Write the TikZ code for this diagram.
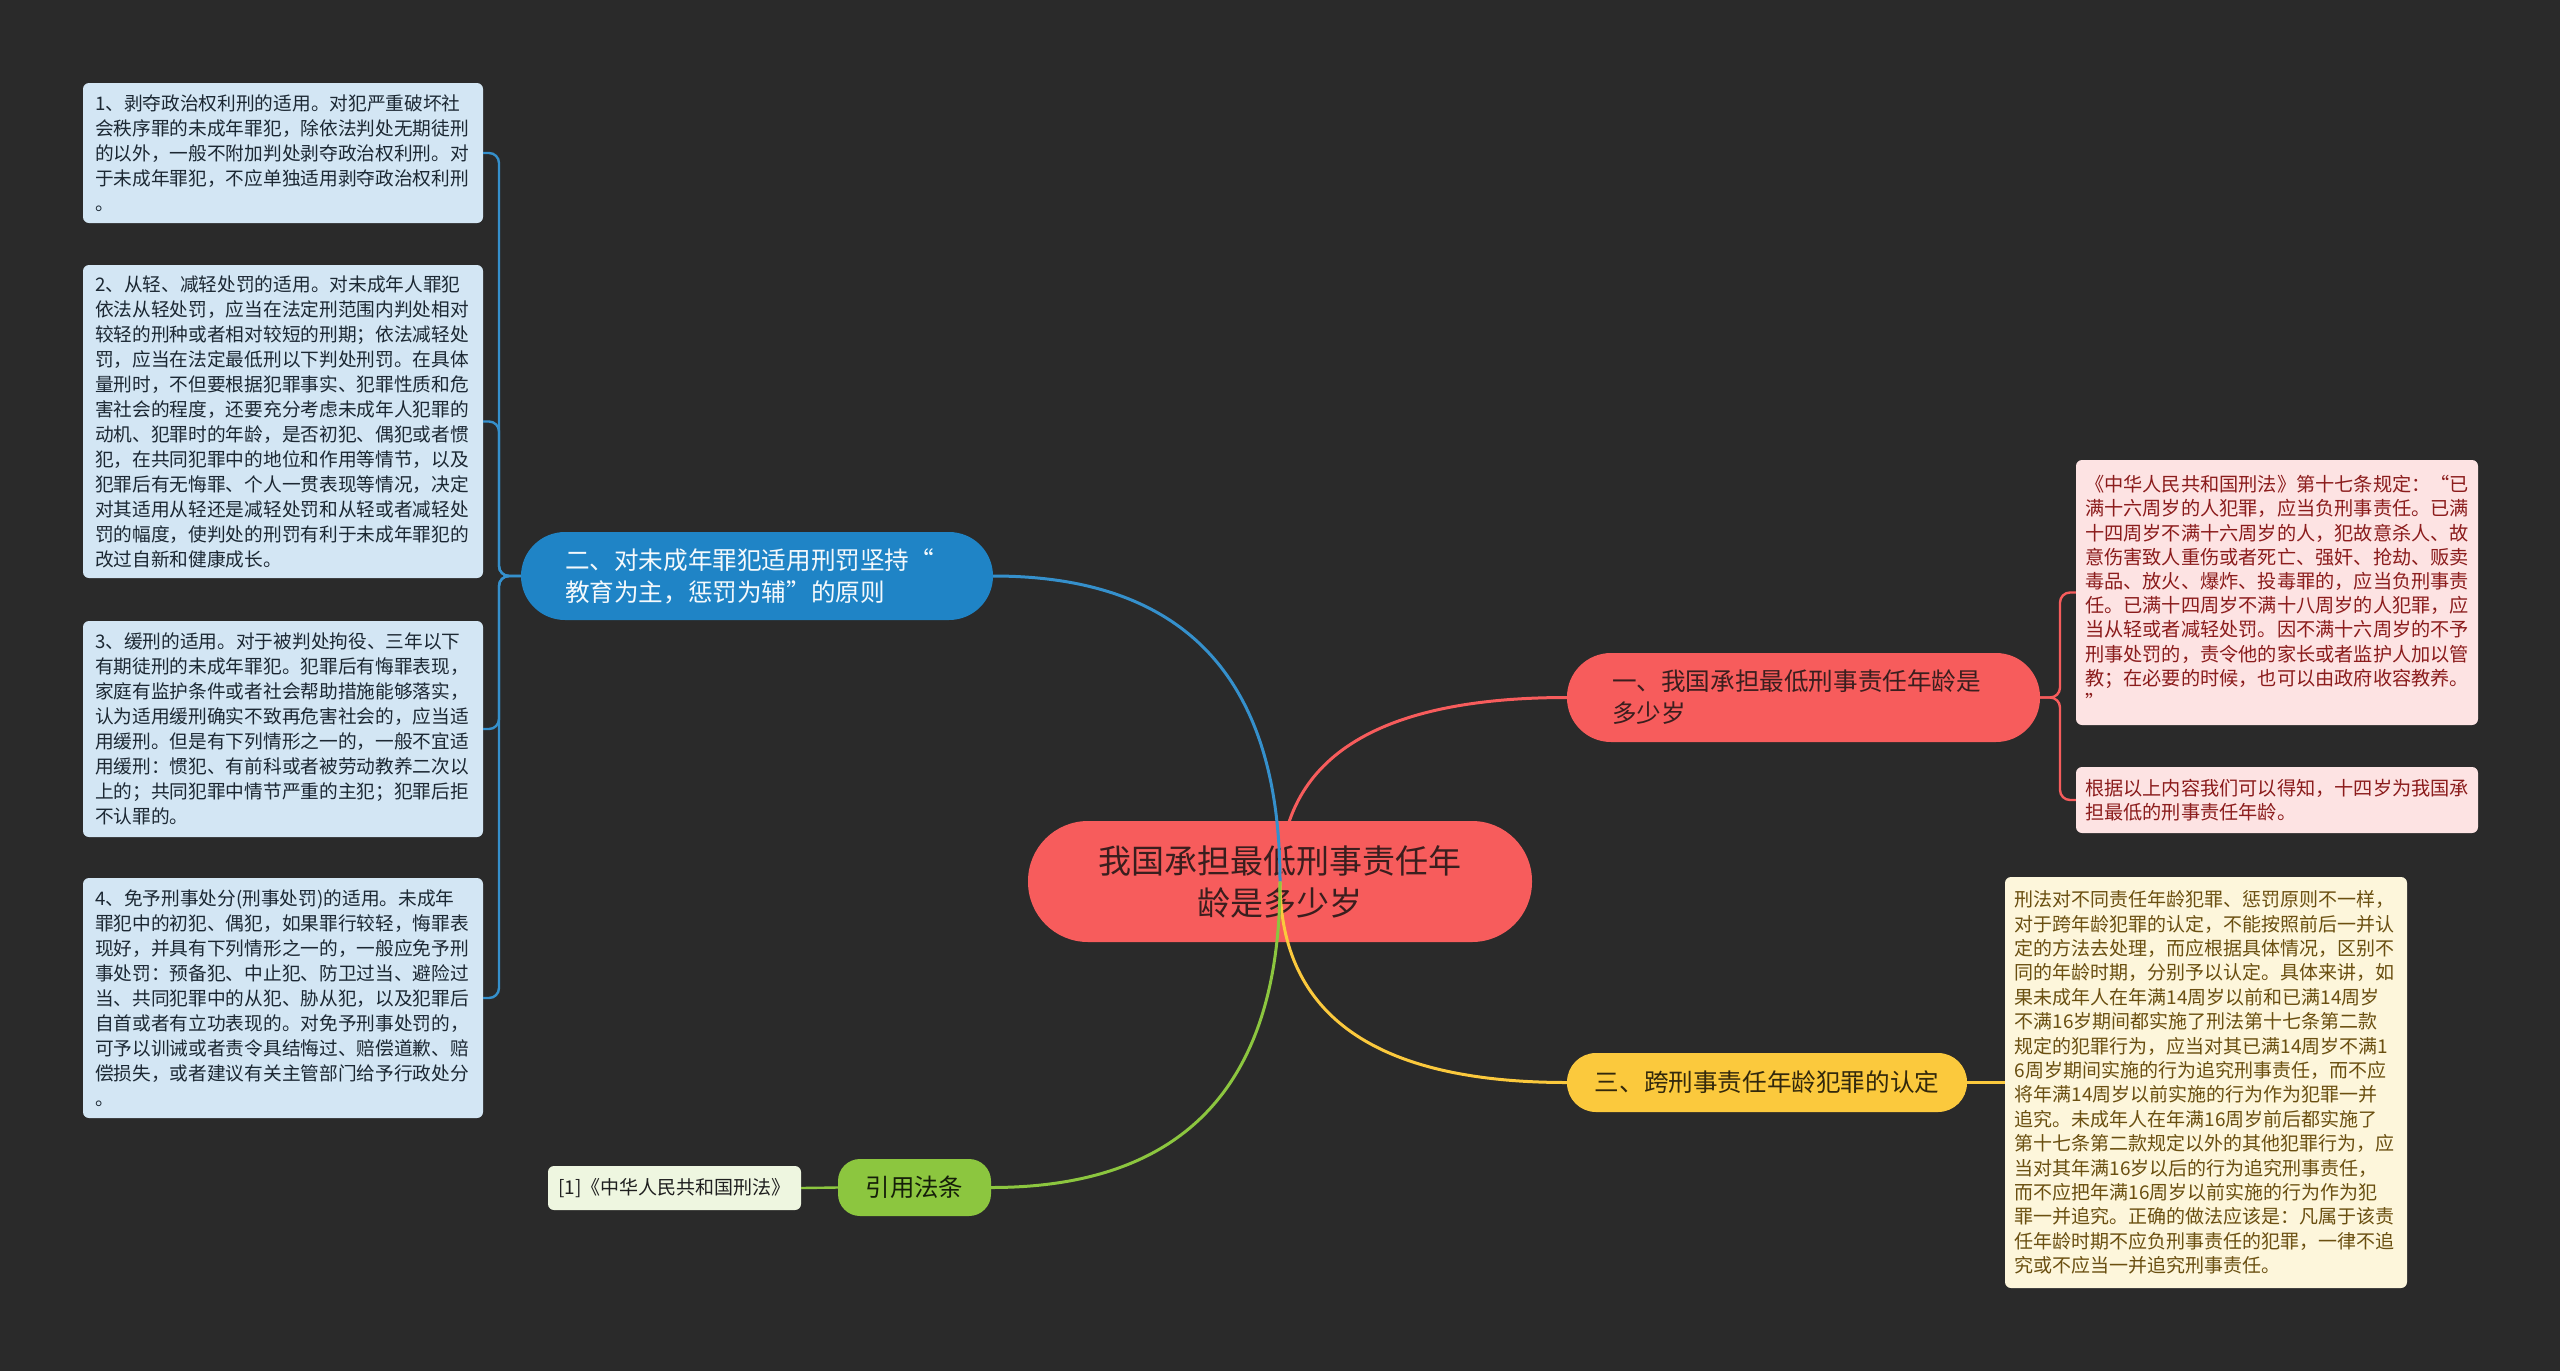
\documentclass[tikz,border=0pt]{standalone}
\usepackage{fontspec}
\setmainfont{Noto Sans CJK SC}
\usetikzlibrary{calc}
\definecolor{bgc}{HTML}{2A2A2A}
\definecolor{redc}{HTML}{F75C5C}
\definecolor{bluec}{HTML}{1F84C6}
\definecolor{yelc}{HTML}{FBC93D}
\definecolor{grnc}{HTML}{8CC63F}
\definecolor{lbluec}{HTML}{D3E6F4}
\definecolor{pinkc}{HTML}{FDE3E3}
\definecolor{creamc}{HTML}{FDF6DB}
\definecolor{lgrnc}{HTML}{EEF6E0}
\definecolor{darkred}{HTML}{3A1E1E}
\definecolor{pinktext}{HTML}{8B1C1C}
\definecolor{creamtext}{HTML}{6A4F10}
\definecolor{boxtext}{HTML}{1C2833}
\begin{document}
\begin{tikzpicture}[x=1pt,y=-1pt,
  centernode/.style={fill=redc, text=darkred, rounded corners=60pt, minimum width=504pt, minimum height=121pt, inner sep=0pt, align=center, font=\fontsize{33}{42}\selectfont},
  branchnode/.style={inner ysep=0pt, align=left, font=\fontsize{24.6}{32}\selectfont},
  leafbox/.style={rounded corners=6pt, inner ysep=0pt, align=left},
  lbox/.style={leafbox, fill=lbluec, text=boxtext, inner xsep=12pt, text width=376pt, font=\fontsize{18.7}{25}\selectfont},
  pbox/.style={leafbox, fill=pinkc, text=pinktext, inner xsep=9pt, text width=384pt, font=\fontsize{19.2}{24.2}\selectfont},
  cbox/.style={leafbox, fill=creamc, text=creamtext, inner xsep=9.5pt, text width=383pt, font=\fontsize{19}{24.4}\selectfont},
  mainline/.style={line width=3pt},
  subline/.style={line width=2.4pt, rounded corners=10pt}
]
\fill[bgc] (0,0) rectangle (2560,1371);
\useasboundingbox (0,0) rectangle (2560,1371);

% central topic
\node[centernode] (c) at (1280,881.5) {我国承担最低刑事责任年\\龄是多少岁};

% branch topics
\node[branchnode, fill=redc, text=darkred, rounded corners=44pt, inner xsep=45pt, text width=383pt, minimum height=89pt] (r) at (1803.5,697.5) {一、我国承担最低刑事责任年龄是\\多少岁};
\node[branchnode, fill=bluec, text={white!95!bluec}, rounded corners=44pt, inner xsep=44pt, text width=384pt, minimum height=88pt] (b) at (757,576) {二、对未成年罪犯适用刑罚坚持“\\教育为主，惩罚为辅”的原则};
\node[branchnode, fill=yelc, text={black!80!yelc}, rounded corners=29pt, inner xsep=0pt, align=center, minimum width=400pt, minimum height=59pt] (y) at (1767,1082.5) {三、跨刑事责任年龄犯罪的认定};
\node[branchnode, fill=grnc, text={black!85!grnc}, rounded corners=22pt, inner xsep=0pt, align=center, minimum width=153pt, minimum height=57pt, font=\fontsize{24.4}{30}\selectfont] (g) at (914.5,1187.5) {引用法条};

% left leaf boxes
\node[lbox, minimum height=140pt] (l1) at (283,153) {1、剥夺政治权利刑的适用。对犯严重破坏社\\会秩序罪的未成年罪犯，除依法判处无期徒刑\\的以外，一般不附加判处剥夺政治权利刑。对\\于未成年罪犯，不应单独适用剥夺政治权利刑\\。};
\node[lbox, minimum height=313pt] (l2) at (283,421.5) {2、从轻、减轻处罚的适用。对未成年人罪犯\\依法从轻处罚，应当在法定刑范围内判处相对\\较轻的刑种或者相对较短的刑期；依法减轻处\\罚，应当在法定最低刑以下判处刑罚。在具体\\量刑时，不但要根据犯罪事实、犯罪性质和危\\害社会的程度，还要充分考虑未成年人犯罪的\\动机、犯罪时的年龄，是否初犯、偶犯或者惯\\犯，在共同犯罪中的地位和作用等情节，以及\\犯罪后有无悔罪、个人一贯表现等情况，决定\\对其适用从轻还是减轻处罚和从轻或者减轻处\\罚的幅度，使判处的刑罚有利于未成年罪犯的\\改过自新和健康成长。};
\node[lbox, minimum height=216pt] (l3) at (283,729) {3、缓刑的适用。对于被判处拘役、三年以下\\有期徒刑的未成年罪犯。犯罪后有悔罪表现，\\家庭有监护条件或者社会帮助措施能够落实，\\认为适用缓刑确实不致再危害社会的，应当适\\用缓刑。但是有下列情形之一的，一般不宜适\\用缓刑：惯犯、有前科或者被劳动教养二次以\\上的；共同犯罪中情节严重的主犯；犯罪后拒\\不认罪的。};
\node[lbox, minimum height=240pt] (l4) at (283,998) {4、免予刑事处分(刑事处罚)的适用。未成年\\罪犯中的初犯、偶犯，如果罪行较轻，悔罪表\\现好，并具有下列情形之一的，一般应免予刑\\事处罚：预备犯、中止犯、防卫过当、避险过\\当、共同犯罪中的从犯、胁从犯，以及犯罪后\\自首或者有立功表现的。对免予刑事处罚的，\\可予以训诫或者责令具结悔过、赔偿道歉、赔\\偿损失，或者建议有关主管部门给予行政处分\\。};

% right leaf boxes
\node[pbox, minimum height=265pt] (p1) at (2277,592.5) {《中华人民共和国刑法》第十七条规定：“已\\满十六周岁的人犯罪，应当负刑事责任。已满\\十四周岁不满十六周岁的人，犯故意杀人、故\\意伤害致人重伤或者死亡、强奸、抢劫、贩卖\\毒品、放火、爆炸、投毒罪的，应当负刑事责\\任。已满十四周岁不满十八周岁的人犯罪，应\\当从轻或者减轻处罚。因不满十六周岁的不予\\刑事处罚的，责令他的家长或者监护人加以管\\教；在必要的时候，也可以由政府收容教养。\\”};
\node[pbox, minimum height=66pt] (p2) at (2277,800) {根据以上内容我们可以得知，十四岁为我国承\\担最低的刑事责任年龄。};
\node[cbox, minimum height=411pt] (k) at (2206,1082.5) {刑法对不同责任年龄犯罪、惩罚原则不一样，\\对于跨年龄犯罪的认定，不能按照前后一并认\\定的方法去处理，而应根据具体情况，区别不\\同的年龄时期，分别予以认定。具体来讲，如\\果未成年人在年满14周岁以前和已满14周岁\\不满16岁期间都实施了刑法第十七条第二款\\规定的犯罪行为，应当对其已满14周岁不满1\\6周岁期间实施的行为追究刑事责任，而不应\\将年满14周岁以前实施的行为作为犯罪一并\\追究。未成年人在年满16周岁前后都实施了\\第十七条第二款规定以外的其他犯罪行为，应\\当对其年满16岁以后的行为追究刑事责任，\\而不应把年满16周岁以前实施的行为作为犯\\罪一并追究。正确的做法应该是：凡属于该责\\任年龄时期不应负刑事责任的犯罪，一律不追\\究或不应当一并追究刑事责任。};
\node[leafbox, fill=lgrnc, text={black!88}, inner xsep=0pt, minimum width=253pt, minimum height=44pt, align=center, font=\fontsize{19}{23}\selectfont] (f) at (674.5,1188) {[1]《中华人民共和国刑法》};

% bracket coordinates
\coordinate (lb) at (499,576);
\coordinate (rb) at (2060,697.5);

% main connectors from the centre
\draw[mainline, redc] (c.center) .. controls ($(c.center)!2/3!(c.center |- r.west)$) and ($(r.west)!2/3!(c.center |- r.west)$) .. (r.west);
\draw[mainline, bluec!90!white] (c.center) .. controls ($(c.center)!2/3!(c.center |- b.east)$) and ($(b.east)!2/3!(c.center |- b.east)$) .. (b.east);
\draw[mainline, yelc] (c.center) .. controls ($(c.center)!2/3!(c.center |- y.west)$) and ($(y.west)!2/3!(c.center |- y.west)$) .. (y.west);
\draw[mainline, grnc] (c.center) .. controls ($(c.center)!2/3!(c.center |- g.east)$) and ($(g.east)!2/3!(c.center |- g.east)$) .. (g.east);

% sub connectors
\draw[subline, bluec!90!white] (b.west) -- (lb) -- (lb |- l1.east) -- (l1.east);
\draw[subline, bluec!90!white] (b.west) -- (lb) -- (lb |- l2.east) -- (l2.east);
\draw[subline, bluec!90!white] (b.west) -- (lb) -- (lb |- l3.east) -- (l3.east);
\draw[subline, bluec!90!white] (b.west) -- (lb) -- (lb |- l4.east) -- (l4.east);
\draw[subline, redc] (r.east) -- (rb) -- (rb |- p1.west) -- (p1.west);
\draw[subline, redc] (r.east) -- (rb) -- (rb |- p2.west) -- (p2.west);
\draw[subline, yelc] (y.east) -- (k.west);
\draw[subline, grnc] (g.west) -- (f.east);
\end{tikzpicture}
\end{document}
